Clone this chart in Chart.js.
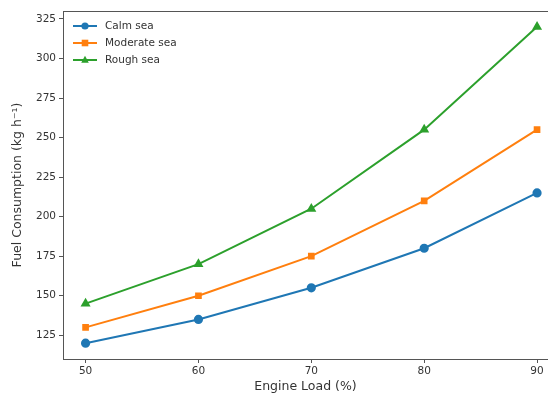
<!DOCTYPE html>
<html><head><meta charset="utf-8">
<script src="https://cdn.jsdelivr.net/npm/chart.js@4/dist/chart.umd.min.js"></script>
<style>html,body{margin:0;padding:0;overflow:hidden;background:#fff;width:548px;height:394px}</style>
</head><body><canvas id="c" width="548" height="394"></canvas>
<script>
const engineLoad = [50, 60, 70, 80, 90];
const calmSea = [120, 135, 155, 180, 215];
const moderateSea = [130, 150, 175, 210, 255];
const roughSea = [145, 170, 205, 255, 320];
const xTicks = [50, 60, 70, 80, 90];
const yTicks = [125, 150, 175, 200, 225, 250, 275, 300, 325];
const seriesNames = ['Calm sea', 'Moderate sea', 'Rough sea'];

const FONT = 'DejaVu Sans';
const TXT = '#333';
const AX = '#555';

function pts(arr){ return engineLoad.map((x,i)=>({x:x,y:arr[i]})); }
const colors = ['#1f77b4','#ff7f0e','#2ca02c'];
const shapes = ['circle','rect','triangle'];
const radii = [3.6,3.3,3.8];
const data = [calmSea, moderateSea, roughSea];

const frame = {
  id:'frame',
  afterDraw(chart){
    const {ctx, chartArea:a} = chart;
    ctx.save();
    ctx.strokeStyle = AX; ctx.lineWidth = 1;
    ctx.beginPath(); ctx.moveTo(a.left, a.top+0.5); ctx.lineTo(chart.width, a.top+0.5); ctx.stroke();
    ctx.font = '10.5px ' + FONT;
    ctx.textBaseline = 'middle';
    chart.data.datasets.forEach((ds,i)=>{
      const y = 26 + i*17;
      ctx.strokeStyle = ds.borderColor; ctx.lineWidth = 2;
      ctx.beginPath(); ctx.moveTo(73,y); ctx.lineTo(97,y); ctx.stroke();
      ctx.fillStyle = ds.borderColor;
      ctx.beginPath();
      const r = ds.pointRadius;
      if (ds.pointStyle==='circle'){ ctx.arc(85,y,r,0,Math.PI*2); }
      else if (ds.pointStyle==='rect'){ ctx.rect(85-r,y-r,2*r,2*r); }
      else { ctx.moveTo(85,y-r*1.1); ctx.lineTo(85+r,y+r*0.7); ctx.lineTo(85-r,y+r*0.7); ctx.closePath(); }
      ctx.fill();
      ctx.fillStyle = TXT;
      ctx.fillText(ds.label, 105, y+0.5);
    });
    ctx.restore();
  }
};

new Chart(document.getElementById('c'), {
  type:'line',
  data:{
    datasets: data.map((d,i)=>({
      label: seriesNames[i],
      data: pts(d),
      borderColor: colors[i],
      backgroundColor: colors[i],
      pointBackgroundColor: colors[i],
      pointBorderColor: colors[i],
      pointStyle: shapes[i],
      pointRadius: radii[i],
      borderWidth: 2,
      tension: 0,
      clip: false
    }))
  },
  options:{
    responsive:false,
    animation:false,
    devicePixelRatio:1,
    layout:{autoPadding:false, padding:{top:11,right:0,left:0,bottom:0}},
    plugins:{legend:{display:false},tooltip:{enabled:false}},
    scales:{
      x:{
        type:'linear', min:48, max:90.97,
        afterBuildTicks(s){ s.ticks = xTicks.map(v=>({value:v})); },
        afterFit(s){ s.height = 35; },
        grid:{drawOnChartArea:false, drawTicks:true, tickLength:4, color:AX},
        border:{display:true,color:AX},
        ticks:{color:TXT, font:{family:FONT,size:10.5}, padding:2, maxRotation:0},
        title:{display:true,text:'Engine Load (%)',color:TXT,font:{family:FONT,size:12.5},padding:{top:1,bottom:0}}
      },
      y:{
        type:'linear', min:110, max:330,
        afterBuildTicks(s){ s.ticks = yTicks.map(v=>({value:v})); },
        afterFit(s){ s.width = 63; },
        grid:{drawOnChartArea:false, drawTicks:true, tickLength:4, color:AX},
        border:{display:true,color:AX},
        ticks:{color:TXT, font:{family:FONT,size:10.5}, padding:3},
        title:{display:true,text:'Fuel Consumption (kg h\u207B\u00B9)',color:TXT,font:{family:FONT,size:12.5},padding:{top:10,bottom:0}}
      }
    }
  },
  plugins:[frame]
});
</script></body></html>
